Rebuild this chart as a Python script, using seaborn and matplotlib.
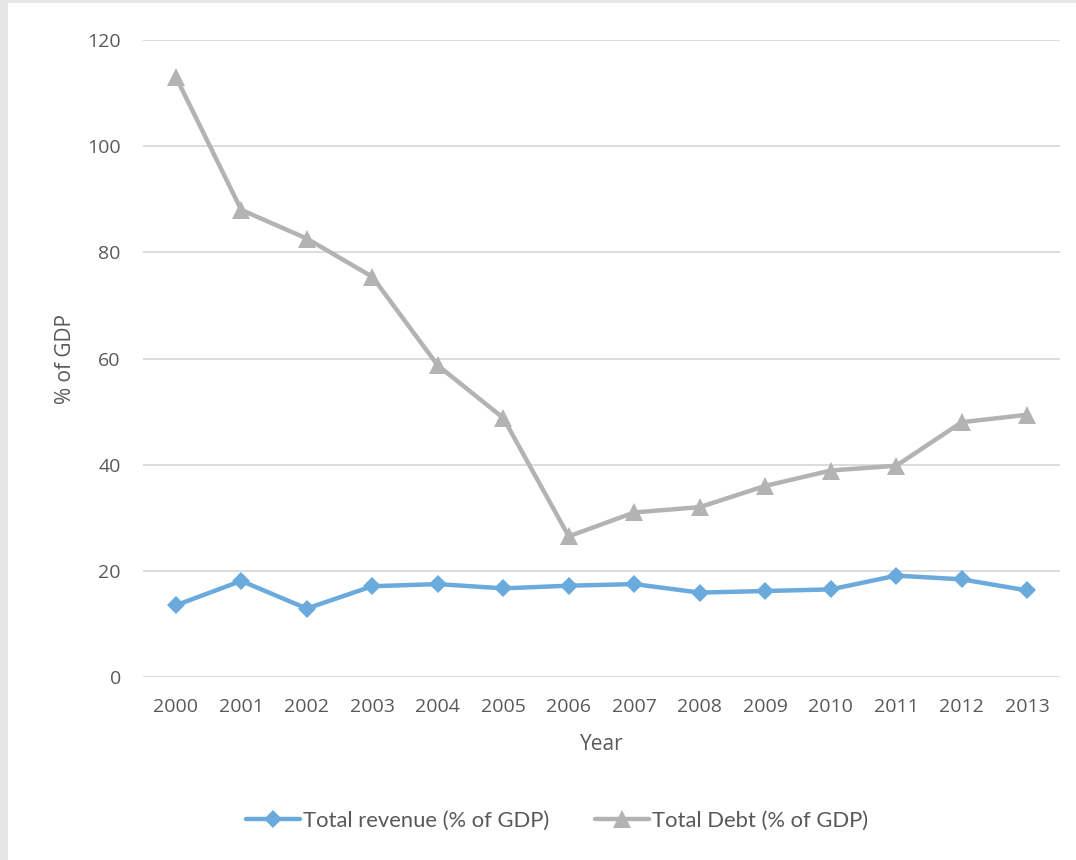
import matplotlib
matplotlib.use("Agg")
import matplotlib.pyplot as plt
from matplotlib.patches import Rectangle
import seaborn as sns
import pandas as pd

years = ["2000", "2001", "2002", "2003", "2004", "2005", "2006",
         "2007", "2008", "2009", "2010", "2011", "2012", "2013"]
revenue = [13.5, 18.1, 12.9, 17.1, 17.5, 16.7, 17.2,
           17.5, 15.9, 16.2, 16.5, 19.1, 18.4, 16.3]
debt = [113.1, 88.0, 82.6, 75.4, 58.7, 48.8, 26.5,
        31.0, 32.0, 36.0, 38.9, 39.8, 48.0, 49.4]
series_names = ["Total revenue (% of GDP)", "Total Debt (% of GDP)"]
y_ticks = [0, 20, 40, 60, 80, 100, 120]

df = pd.DataFrame({
    "Year": years * 2,
    "value": revenue + debt,
    "series": [series_names[0]] * len(years) + [series_names[1]] * len(years),
})

sns.set_theme(style="white")
plt.rcParams["font.family"] = ["Open Sans", "DejaVu Sans"]

fig = plt.figure(figsize=(10.76, 8.6), dpi=100)
fig.patch.set_facecolor("white")
# thin grey frame strips along the left and top edges
fig.patches.append(Rectangle((0, 0), 8 / 1076, 1, transform=fig.transFigure,
                             facecolor="#e6e6e6", edgecolor="none", zorder=-10))
fig.patches.append(Rectangle((0, 1 - 3 / 860), 1, 3 / 860, transform=fig.transFigure,
                             facecolor="#e6e6e6", edgecolor="none", zorder=-10))

ax = fig.add_axes([143 / 1076, 1 - 677 / 860, (1060 - 143) / 1076, (677 - 40) / 860])
ax.set_facecolor("none")

palette = {series_names[0]: "#6aaadc", series_names[1]: "#b3b3b3"}
markers = {series_names[0]: "D", series_names[1]: "^"}

sns.lineplot(data=df, x="Year", y="value", hue="series", style="series",
             palette=palette, markers=markers, dashes=False, linewidth=3.2,
             markersize=11, markeredgewidth=0, ax=ax, legend=False, sort=False)

for line in ax.get_lines():
    if line.get_marker() == "D":
        line.set_markersize(9)
    elif line.get_marker() == "^":
        line.set_markersize(13)

ax.set_xlim(-0.5, len(years) - 0.5)
ax.set_ylim(0, 120)
ax.set_yticks(y_ticks)
ax.yaxis.grid(True, color="#d9d9d9", linewidth=1.3)
ax.set_axisbelow(True)
for s in ax.spines.values():
    s.set_visible(False)
ax.tick_params(axis="both", length=0, labelsize=14, labelcolor="#595959")
ax.tick_params(axis="y", pad=16)
ax.tick_params(axis="x", pad=15)

ax.set_xlabel("Year", fontsize=15, color="#595959", labelpad=13)
ax.set_ylabel("% of GDP", fontsize=15, color="#595959", labelpad=8)

handles = ax.get_lines()[:2]
leg = fig.legend(handles, series_names, loc="center", bbox_to_anchor=(557 / 1076, 1 - 821 / 860),
                 ncol=2, frameon=False, handlelength=2.45, handletextpad=0.12,
                 columnspacing=2.1, prop={"family": ["Lato", "DejaVu Sans"], "size": 15.8})
for t in leg.get_texts():
    t.set_color("#595959")

fig.savefig("out.png", dpi=100, facecolor=fig.get_facecolor())
